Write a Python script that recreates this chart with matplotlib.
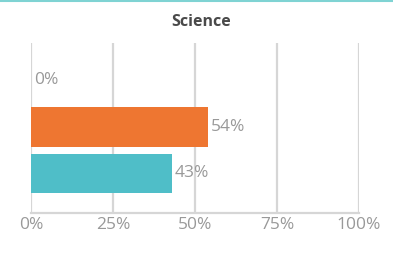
import matplotlib.pyplot as plt
from matplotlib.lines import Line2D

categories = ['Group C', 'Group B', 'Group A']
values = [43, 54, 0]
colors = ['#4fbec8', '#ee7631', '#cccccc']
ticks = [0, 25, 50, 75, 100]
tick_labels = ['0%', '25%', '50%', '75%', '100%']

plt.rcParams['font.family'] = ['Open Sans', 'DejaVu Sans']

fig = plt.figure(figsize=(3.93, 2.79), dpi=100)
ax = fig.add_axes([0.0789, 0.2366, 0.8346, 0.6093])

pos = range(len(categories))
ax.barh(pos, values, height=0.85, color=colors, zorder=3)
for p, v in zip(pos, values):
    ax.text(v + 0.9, p, f'{v}%', va='center', ha='left', fontsize=12.5, color='#999999')

ax.set_xlim(0, 100)
ax.set_ylim(-0.845, 2.79)
ax.set_xticks(ticks)
ax.set_xticklabels(tick_labels, fontsize=12.5, color='#999999')
ax.set_yticks([])
ax.tick_params(axis='x', length=0, pad=3)
ax.grid(axis='x', color='#d6d6d6', linewidth=1.6, zorder=0)
for s in ['top', 'right', 'left']:
    ax.spines[s].set_visible(False)
ax.spines['bottom'].set_color('#d6d6d6')
ax.spines['bottom'].set_linewidth(1.6)

ax.set_title('Science', fontsize=11.5, fontweight='bold', color='#4a4a4a', pad=12, x=0.52)

fig.add_artist(Line2D([0, 1], [0.998, 0.998], color='#7fd3d3', linewidth=1.5, transform=fig.transFigure))

fig.savefig('out.png', dpi=100)
